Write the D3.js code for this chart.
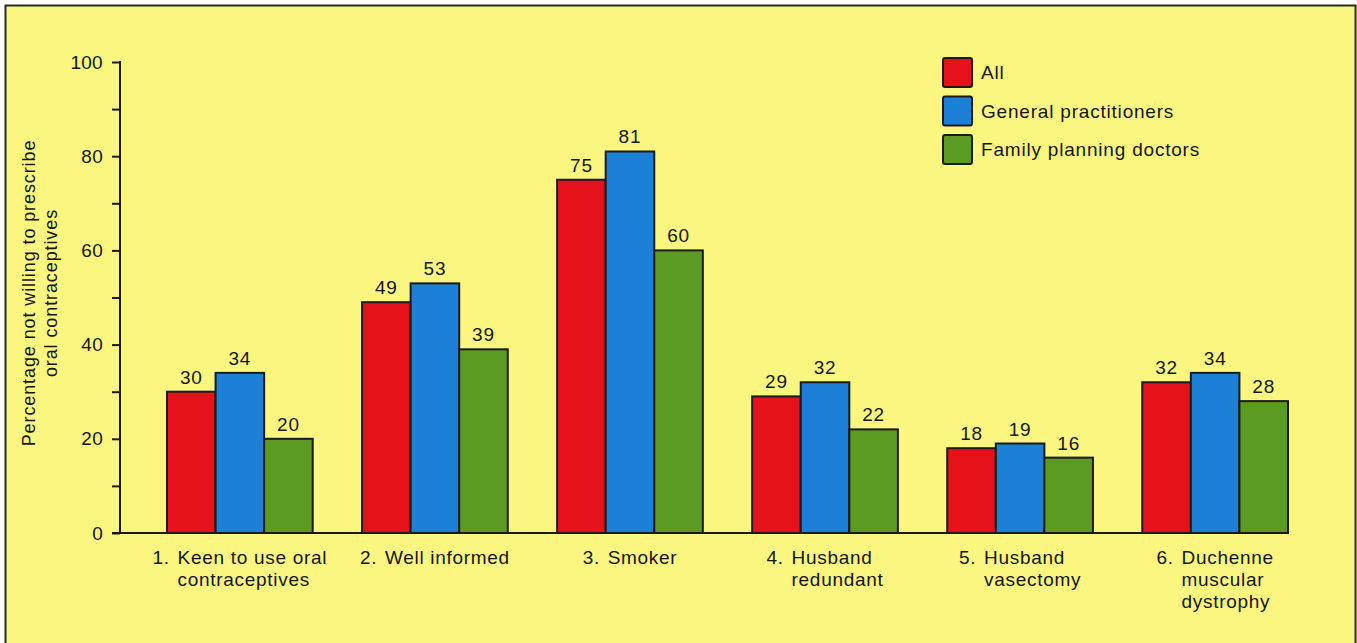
<!DOCTYPE html>
<html>
<head>
<meta charset="utf-8">
<script src="https://cdn.jsdelivr.net/npm/d3@7/dist/d3.min.js"></script>
<style>
  html, body { margin: 0; padding: 0; background: #ffffff; }
  svg text { font-family: "Liberation Sans", Arial, Helvetica, sans-serif; fill: #151515; }
</style>
</head>
<body>
<svg id="chart" width="1357" height="643"></svg>
<script>
// ---- data ----
const categoryNumbers = ["1.", "2.", "3.", "4.", "5.", "6."];
const categoryLines = [
  ["Keen to use oral", "contraceptives"],
  ["Well informed"],
  ["Smoker"],
  ["Husband", "redundant"],
  ["Husband", "vasectomy"],
  ["Duchenne", "muscular", "dystrophy"]
];
const seriesNames = ["All", "General practitioners", "Family planning doctors"];
const allValues = [30, 49, 75, 29, 18, 32];
const gpValues = [34, 53, 81, 32, 19, 34];
const fpValues = [20, 39, 60, 22, 16, 28];
const yTicks = [0, 20, 40, 60, 80, 100];
const yMinorTicks = [10, 30, 50, 70, 90];
const yTitleLines = ["Percentage not willing to prescribe", "oral contraceptives"];

// ---- styling / layout ----
const W = 1357, H = 643;
const colors = ["#e6121b", "#1c80d6", "#5b9b21"];
const bg = "#faf680";
const ink = "#1a1a1a";

const svg = d3.select("#chart");
svg.append("rect").attr("x", 0).attr("y", 0).attr("width", W).attr("height", H).attr("fill", "#ffffff");
svg.append("rect").attr("x", 5).attr("y", 5).attr("width", W - 5).attr("height", H - 5).attr("fill", bg);
// frame lines
svg.append("path").attr("d", `M5.5,${H} V5.5 H1355.5 V${H}`)
  .attr("fill", "none").attr("stroke", "#2a2a22").attr("stroke-width", 2);

const seriesData = [allValues, gpValues, fpValues];
const idx = d3.range(categoryNumbers.length);

const x0 = d3.scaleBand().domain(idx).range([167, 1288]).paddingInner(0.253).paddingOuter(0);
const x1 = d3.scaleBand().domain(d3.range(seriesNames.length)).range([0, x0.bandwidth()]).padding(0);
const y = d3.scaleLinear().domain([0, 100]).range([533, 62]);

// y axis (major)
const yAxis = d3.axisLeft(y).tickValues(yTicks).tickSize(8).tickPadding(9).tickFormat(d3.format("d"));
const gy = svg.append("g").attr("transform", "translate(120,0)").call(yAxis);
gy.select(".domain").remove();
gy.selectAll(".tick line").attr("stroke", ink).attr("stroke-width", 2);
gy.selectAll(".tick text").attr("font-size", 19).attr("fill", "#151515")
  .attr("font-family", "'Liberation Sans', Arial, sans-serif").attr("letter-spacing", "0.3px");
// minor ticks
const yMinor = d3.axisLeft(y).tickValues(yMinorTicks).tickSize(8).tickFormat("");
const gym = svg.append("g").attr("transform", "translate(120,0)").call(yMinor);
gym.select(".domain").remove();
gym.selectAll(".tick line").attr("stroke", ink).attr("stroke-width", 2);
// axis vertical line
svg.append("line").attr("x1", 120).attr("x2", 120).attr("y1", y(100) - 1).attr("y2", y(0))
  .attr("stroke", ink).attr("stroke-width", 2);

// bars
const groups = svg.append("g").selectAll("g").data(idx).join("g")
  .attr("transform", i => `translate(${x0(i)},0)`);
groups.selectAll("rect")
  .data(i => seriesData.map((s, k) => ({ k, v: s[i] })))
  .join("rect")
  .attr("x", d => x1(d.k))
  .attr("y", d => y(d.v))
  .attr("width", x1.bandwidth())
  .attr("height", d => y(0) - y(d.v))
  .attr("fill", d => colors[d.k])
  .attr("stroke", ink).attr("stroke-width", 2);
groups.selectAll("text.val")
  .data(i => seriesData.map((s, k) => ({ k, v: s[i] })))
  .join("text").attr("class", "val")
  .attr("x", d => x1(d.k) + x1.bandwidth() / 2)
  .attr("y", d => y(d.v) - 8)
  .attr("text-anchor", "middle")
  .attr("font-size", 19).attr("letter-spacing", "0.8px")
  .text(d => d.v);

// x baseline
svg.append("line").attr("x1", 112).attr("x2", x0(5) + x0.bandwidth()).attr("y1", y(0)).attr("y2", y(0))
  .attr("stroke", ink).attr("stroke-width", 2);

// category labels with hanging indent
const indent = 25;
idx.forEach(i => {
  const g = svg.append("g");
  const num = g.append("text").attr("font-size", 19).attr("letter-spacing", "0.7px").attr("y", 564).text(categoryNumbers[i]);
  const lines = categoryLines[i].map((ln, j) =>
    g.append("text").attr("font-size", 19).attr("letter-spacing", "0.7px")
      .attr("y", 564 + j * 22).text(ln));
  const maxW = d3.max(lines, t => t.node().getComputedTextLength());
  const blockW = indent + maxW;
  const cx = x0(i) + x0.bandwidth() / 2;
  const start = cx - blockW / 2;
  num.attr("x", start);
  lines.forEach(t => t.attr("x", start + indent));
});

// y title
const yt = svg.append("text").attr("transform", "translate(0,293) rotate(-90)")
  .attr("text-anchor", "middle").attr("font-size", 18).attr("letter-spacing", "0.9px");
yTitleLines.forEach((ln, j) => {
  yt.append("tspan").attr("x", 0).attr("y", 35 + j * 22).text(ln);
});

// legend
const lg = svg.append("g").attr("transform", "translate(943,58)");
seriesNames.forEach((name, k) => {
  const row = lg.append("g").attr("transform", `translate(0,${k * 38.5})`);
  row.append("rect").attr("x", 0).attr("y", 0).attr("width", 29).attr("height", 29)
    .attr("rx", 2).attr("fill", colors[k]).attr("stroke", ink).attr("stroke-width", 2);
  row.append("text").attr("x", 38).attr("y", 21).attr("font-size", 19).attr("letter-spacing", "0.8px").text(name);
});
</script>
</body>
</html>
